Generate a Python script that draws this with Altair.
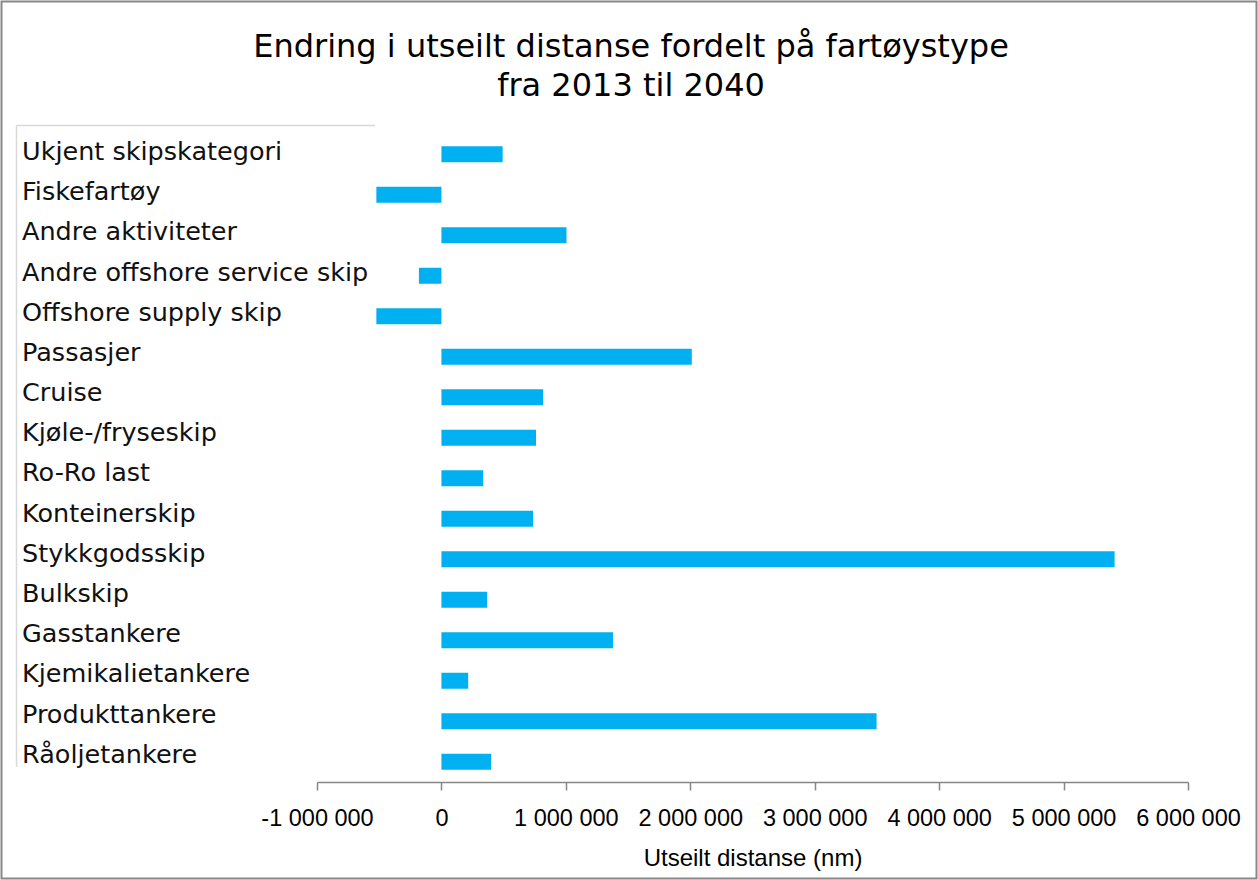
import altair as alt
import pandas as pd

# ---- data ----
categories = [
    "Ukjent skipskategori", "Fiskefartøy", "Andre aktiviteter",
    "Andre offshore service skip", "Offshore supply skip", "Passasjer",
    "Cruise", "Kjøle-/fryseskip", "Ro-Ro last", "Konteinerskip",
    "Stykkgodsskip", "Bulkskip", "Gasstankere", "Kjemikalietankere",
    "Produkttankere", "Råoljetankere",
]
values = [
    492000, -523000, 1005000, -181000, -523000, 2012000,
    818000, 760000, 336000, 737000,
    5410000, 368000, 1379000, 215000,
    3497000, 400000,
]
tick_values = [-1000000, 0, 1000000, 2000000, 3000000, 4000000, 5000000, 6000000]
x_domain = [-1000000, 6000000]
title_lines = ["Endring i utseilt distanse fordelt på fartøystype", "fra 2013 til 2040"]
x_title = "Utseilt distanse (nm)"

df = pd.DataFrame({"kategori": categories, "verdi": values})
one = pd.DataFrame({"k": [0]})

W, H = 871, 648
LEFT, TOP = 317, 134

bars = alt.Chart(df).mark_bar(color="#00B0F0").encode(
    x=alt.X(
        "verdi:Q",
        scale=alt.Scale(domain=x_domain, nice=False, zero=False),
        axis=alt.Axis(
            values=tick_values,
            title=x_title,
            grid=False,
            domainColor="#868686",
            domainWidth=1.5,
            tickColor="#868686",
            tickWidth=1.5,
            tickSize=8,
            labelPadding=16,
            labelFont="Liberation Sans",
            labelFontSize=23.5,
            labelColor="#000000",
            labelOverlap=False,
            labelFlush=False,
            labelExpr="replace(replace(format(datum.value, ',d'), regexp(',', 'g'), ' '), '\u2212', '-')",
            titleFont="Liberation Sans",
            titleFontSize=24,
            titleFontWeight="normal",
            titleColor="#000000",
            titleBaseline="alphabetic",
            titleY=83,
        ),
    ),
    y=alt.Y(
        "kategori:N",
        sort=categories,
        scale=alt.Scale(paddingInner=0.605, paddingOuter=0.3025),
        axis=None,
    ),
)

# white label box with light top/left border
box = alt.Chart(one).mark_rect(color="white").encode(
    x=alt.value(16.5 - LEFT), x2=alt.value(375 - LEFT),
    y=alt.value(125.5 - TOP), y2=alt.value(767 - TOP),
)
box_top = alt.Chart(one).mark_rule(color="#d9d9d9", strokeWidth=1.5).encode(
    x=alt.value(16.5 - LEFT), x2=alt.value(375 - LEFT), y=alt.value(125.5 - TOP),
)
box_left = alt.Chart(one).mark_rule(color="#d9d9d9", strokeWidth=1.5).encode(
    x=alt.value(16.5 - LEFT), y=alt.value(125.5 - TOP), y2=alt.value(767 - TOP),
)

labels = alt.Chart(df).mark_text(
    align="left", baseline="alphabetic", font="DejaVu Sans", fontSize=25.5, color="#111111",
).encode(
    x=alt.value(22 - LEFT),
    y=alt.Y(
        "kategori:N",
        sort=categories,
        scale=alt.Scale(range=[5.9, 648.8], paddingInner=0, paddingOuter=0),
        axis=None,
    ),
    text="kategori:N",
)

title = alt.Chart(one).mark_text(
    text=title_lines, align="center", baseline="alphabetic",
    font="DejaVu Sans", fontSize=32, lineHeight=39, color="#000000",
).encode(x=alt.value(631 - LEFT), y=alt.value(57 - TOP))

border = alt.Chart(one).mark_rect(fillOpacity=0, stroke="#888888", strokeWidth=2).encode(
    x=alt.value(1.5 - LEFT), x2=alt.value(1256.5 - LEFT),
    y=alt.value(1.5 - TOP), y2=alt.value(878.5 - TOP),
)

chart = alt.layer(bars, box, box_top, box_left, labels, title, border).resolve_scale(
    y="independent"
).properties(
    width=W, height=H,
    autosize=alt.AutoSizeParams(type="none"),
    padding={"left": LEFT, "top": TOP, "right": 1258 - LEFT - W, "bottom": 880 - TOP - H},
    background="white",
).configure_view(strokeWidth=0)

chart.save("out.html", embed_options={"renderer": "svg", "actions": False})
